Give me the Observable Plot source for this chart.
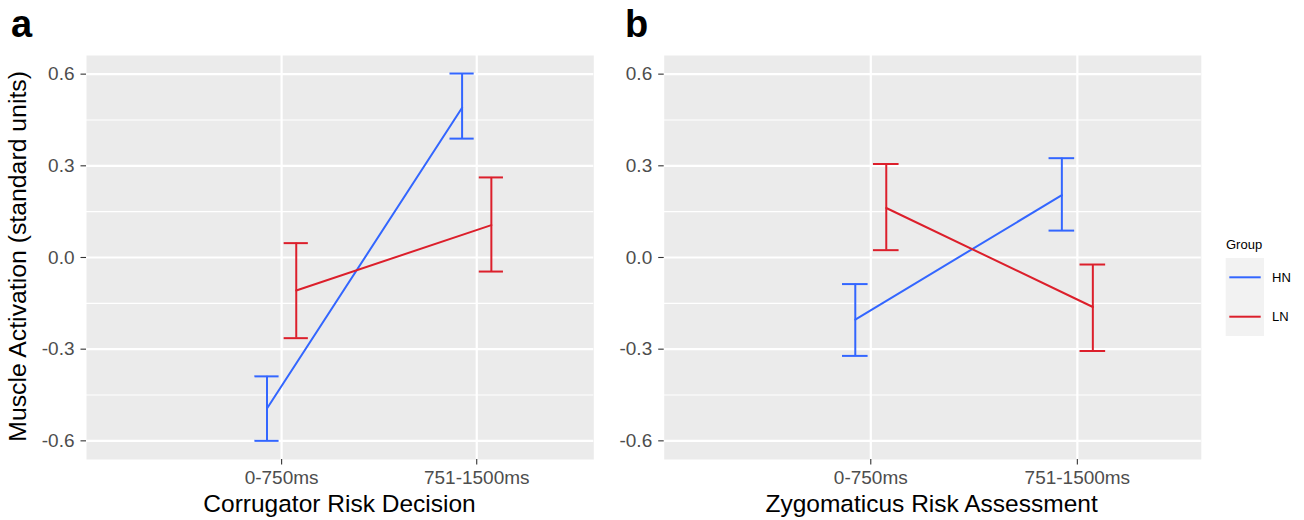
<!DOCTYPE html>
<html><head><meta charset="utf-8">
<script src="https://cdn.jsdelivr.net/npm/d3@7"></script>
<script src="https://cdn.jsdelivr.net/npm/@observablehq/plot@0.6"></script>
<style>
body{margin:0;background:#fff;font-family:"Liberation Sans",Arial,sans-serif;}
#root{position:relative;width:1304px;height:520px;overflow:hidden;background:#fff;}
.letter{position:absolute;font-weight:bold;font-size:38px;line-height:1;color:#000;}
.xt{position:absolute;font-size:24.5px;color:#000;text-align:center;white-space:nowrap;line-height:1;}
.yt{position:absolute;font-size:24.8px;color:#000;white-space:nowrap;line-height:1;transform-origin:center;}
</style></head><body><div id="root"></div>
<script>
const categories = ["0-750ms", "751-1500ms"];
const groups = ["HN", "LN"];
const colors = ["#3366FF", "#DC1F2B"];
const yTicks = [-0.6, -0.3, 0, 0.3, 0.6];
const yMinor = [-0.45, -0.15, 0.15, 0.45];

// Panel a: Corrugator Risk Decision
const hnMeanA = [-0.494, 0.490];
const hnLowA  = [-0.600, 0.389];
const hnHighA = [-0.389, 0.602];
const lnMeanA = [-0.108, 0.106];
const lnLowA  = [-0.264, -0.046];
const lnHighA = [0.047, 0.262];

// Panel b: Zygomaticus Risk Assessment
const hnMeanB = [-0.203, 0.204];
const hnLowB  = [-0.322, 0.088];
const hnHighB = [-0.087, 0.325];
const lnMeanB = [0.162, -0.162];
const lnLowB  = [0.024, -0.306];
const lnHighB = [0.306, -0.023];

function rows(hnM, hnL, hnH, lnM, lnL, lnH) {
  const out = [];
  categories.forEach((c, i) => {
    out.push({cat: c, i, group: "HN", mean: hnM[i], low: hnL[i], high: hnH[i]});
    out.push({cat: c, i, group: "LN", mean: lnM[i], low: lnL[i], high: lnH[i]});
  });
  return out;
}
const DODGE = 0.075, CAP = 0.062;
const xpos = d => d.i + 1 + (d.group === "HN" ? -DODGE : DODGE);

function panel(data, width, marginLeft) {
  return Plot.plot({
    width, height: 520, marginLeft, marginRight: 0, marginTop: 55, marginBottom: 61,
    style: {fontFamily: "'Liberation Sans', Arial, sans-serif", background: "transparent", overflow: "visible"},
    x: {domain: [0, 2.6]},
    y: {domain: [-0.661, 0.661]},
    color: {domain: groups, range: colors},
    marks: [
      Plot.frame({fill: "#EBEBEB", stroke: null}),
      Plot.ruleY(yMinor, {stroke: "white", strokeWidth: 1.1}),
      Plot.ruleY(yTicks, {stroke: "white", strokeWidth: 2.2}),
      Plot.ruleX([1, 2], {stroke: "white", strokeWidth: 2.2}),
      Plot.axisY({ticks: yTicks, tickSize: 5.5, tickPadding: 6.5, tickFormat: d => d.toFixed(1),
        fontSize: 19, stroke: "#333", strokeWidth: 1.1, fill: "#4D4D4D", label: null}),
      Plot.axisX({ticks: [1, 2], tickSize: 5.5, tickPadding: 5.5, tickFormat: d => categories[d - 1],
        fontSize: 19, stroke: "#333", strokeWidth: 1.1, fill: "#4D4D4D", label: null}),
      Plot.ruleX(data, {x: xpos, y1: "low", y2: "high", stroke: "group", strokeWidth: 2}),
      Plot.ruleY(data, {y: "low", x1: d => xpos(d) - CAP, x2: d => xpos(d) + CAP, stroke: "group", strokeWidth: 2}),
      Plot.ruleY(data, {y: "high", x1: d => xpos(d) - CAP, x2: d => xpos(d) + CAP, stroke: "group", strokeWidth: 2}),
      Plot.line(data, {x: xpos, y: "mean", z: "group", stroke: "group", strokeWidth: 2})
    ]
  });
}

const root = document.getElementById("root");
function place(el, left, top) { el.style.position = "absolute"; el.style.left = left + "px"; el.style.top = top + "px"; root.appendChild(el); return el; }

const pa = panel(rows(hnMeanA, hnLowA, hnHighA, lnMeanA, lnLowA, lnHighA), 593.3, 86);
place(pa, 0, 0);
const pb = panel(rows(hnMeanB, hnLowB, hnHighB, lnMeanB, lnLowB, lnHighB), 600.8, 63.7);
place(pb, 600, 0);

function div(cls, text) { const d = document.createElement("div"); d.className = cls; d.textContent = text; return d; }
place(div("letter", "a"), 11, 4.6);
place(div("letter", "b"), 625, 4.6);

const xa = div("xt", "Corrugator Risk Decision"); xa.style.width = "500px"; place(xa, 339.5 - 250, 492.3);
const xb = div("xt", "Zygomaticus Risk Assessment"); xb.style.width = "500px"; place(xb, 931.6 - 250, 492.3);

const yt = div("yt", "Muscle Activation (standard units)");
yt.style.width = "500px"; yt.style.height = "24.8px"; yt.style.textAlign = "center";
yt.style.transform = "rotate(-90deg)";
place(yt, 18 - 250, 256.7 - 12.4);

// Legend
const lg = d3.create("svg").attr("width", 90).attr("height", 130)
  .style("font-family", "'Liberation Sans', Arial, sans-serif");
lg.append("text").attr("x", 2).attr("y", 29.3).attr("font-size", 13).attr("fill", "#000").text("Group");
lg.append("rect").attr("x", 1.7).attr("y", 38).attr("width", 38.3).attr("height", 78).attr("fill", "#F2F2F2");
groups.forEach((g, k) => {
  const y = 57.3 + k * 39.4;
  lg.append("line").attr("x1", 5.3).attr("x2", 36.7).attr("y1", y).attr("y2", y)
    .attr("stroke", colors[k]).attr("stroke-width", 2);
  lg.append("text").attr("x", 48).attr("y", y).attr("dy", "0.35em").attr("font-size", 13).attr("fill", "#000").text(g);
});
place(lg.node(), 1224, 220);
</script></body></html>
